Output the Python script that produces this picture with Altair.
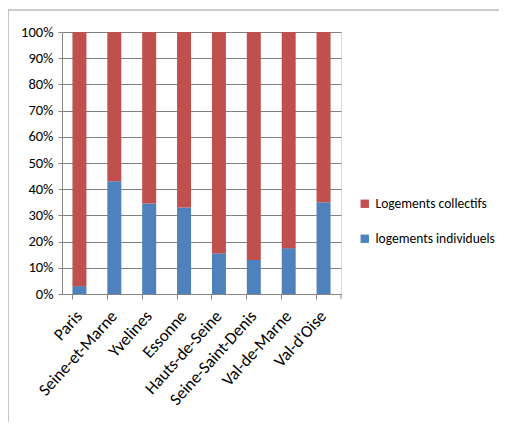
import altair as alt
import pandas as pd

departements = ["Paris", "Seine-et-Marne", "Yvelines", "Essonne", "Hauts-de-Seine",
                "Seine-Saint-Denis", "Val-de-Marne", "Val-d'Oise"]
individuels = [0.03, 0.43, 0.345, 0.33, 0.155, 0.13, 0.175, 0.35]
collectifs = [round(1 - v, 3) for v in individuels]

series = ["Logements collectifs", "logements individuels"]
colors = ["#C0504D", "#4F81BD"]

rows = []
for d, i, c in zip(departements, individuels, collectifs):
    rows.append({"dep": d, "serie": series[1], "val": i, "ord": 0})
    rows.append({"dep": d, "serie": series[0], "val": c, "ord": 1})
df = pd.DataFrame(rows)

FONT = "Carlito, Liberation Sans Narrow, Liberation Sans"

bars = alt.Chart(df).mark_bar(size=14).encode(
    x=alt.X("dep:N", sort=departements, title=None,
            scale=alt.Scale(paddingInner=0.6, paddingOuter=0.3),
            axis=alt.Axis(labelAngle=-48, labelAlign="right", labelBaseline="middle",
                          labelFontSize=17, labelColor="#000000", labelFont=FONT,
                          domainColor="#868686", tickColor="#868686", tickSize=5,
                          bandPosition=0, labelPadding=14, grid=False)),
    y=alt.Y("val:Q", stack="zero", title=None,
            scale=alt.Scale(domain=[0, 1], nice=False),
            axis=alt.Axis(values=[i / 10 for i in range(11)], format=".0%",
                          labelFontSize=14.5, labelColor="#000000", labelFont=FONT,
                          domainColor="#868686", tickColor="#868686", tickSize=4,
                          gridColor="#808080", gridWidth=1, labelPadding=5)),
    color=alt.Color("serie:N", sort=series,
                    scale=alt.Scale(domain=series, range=colors),
                    legend=alt.Legend(title=None, orient="none", legendX=296, legendY=165,
                                      symbolType="square", symbolSize=70,
                                      symbolStrokeWidth=0,
                                      labelFontSize=13.5, labelFont=FONT, labelColor="#000000",
                                      rowPadding=20, labelOffset=4)),
    order=alt.Order("ord:Q"),
)

endtick = alt.Chart(pd.DataFrame({"a": [0]})).mark_rule(color="#868686").encode(
    x=alt.value(279), y=alt.value(262), y2=alt.value(267))

frame_top = alt.Chart(pd.DataFrame({"a": [0]})).mark_rule(color="#9a9a9a", strokeWidth=1.2).encode(
    x=alt.value(-54), x2=alt.value(445), y=alt.value(-22))
frame_left = alt.Chart(pd.DataFrame({"a": [0]})).mark_rule(color="#9a9a9a", strokeWidth=1.2).encode(
    x=alt.value(-54), y=alt.value(-22), y2=alt.value(400))

chart = alt.layer(bars, endtick, frame_top, frame_left).properties(
    width=279, height=262,
    autosize=alt.AutoSizeParams(type="none"),
    padding={"left": 54, "top": 24, "right": 158, "bottom": 128},
).configure_view(stroke=None).configure(background="white")

chart.save("out.html", embed_options={"renderer": "svg", "actions": False})
